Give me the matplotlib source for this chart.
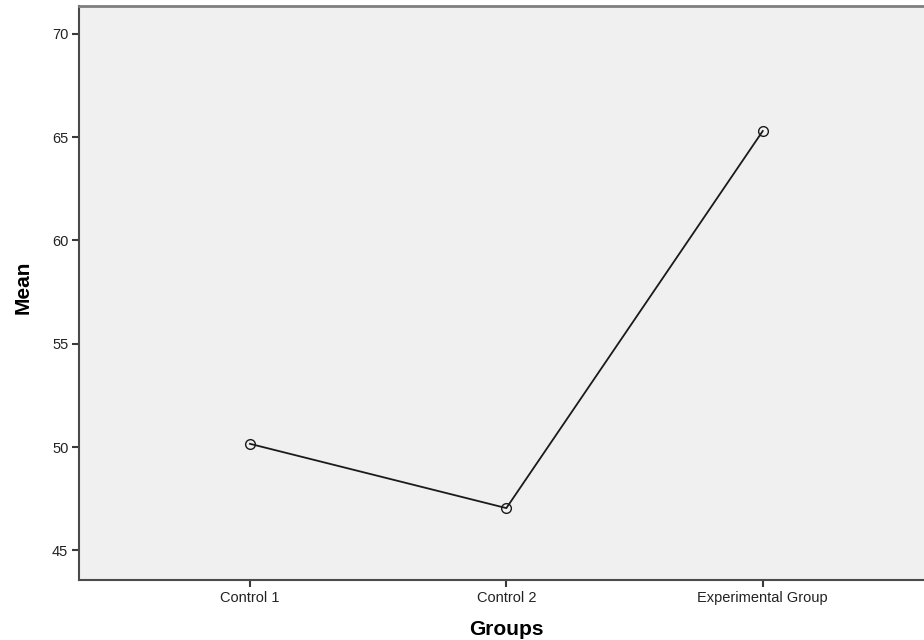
import matplotlib
matplotlib.use("Agg")
import matplotlib.pyplot as plt

# Mean score per group
groups = ["Control 1", "Control 2", "Experimental Group"]
means = [50.16, 47.05, 65.29]
y_ticks = [45, 50, 55, 60, 65, 70]

plt.rcParams['font.family'] = ['Liberation Sans', 'DejaVu Sans']

fig = plt.figure(figsize=(9.24, 6.4), dpi=100)
ax = fig.add_axes([0.086, 0.094, 0.924, 0.897])
ax.set_facecolor("#f0f0f0")

x = list(range(len(groups)))
ax.plot(x, means, color="#1a1a1a", linewidth=1.3, marker="o", markersize=7,
        markerfacecolor="none", markeredgecolor="#1a1a1a", markeredgewidth=1.0)

ax.set_xlim(-0.665, 2.665)
ax.set_ylim(43.58, 71.35)
ax.set_xticks(x)
ax.set_xticklabels(groups)
ax.set_yticks(y_ticks)
ax.tick_params(axis="both", direction="out", length=5, width=1.5, color="#3a3a3a",
               labelsize=10.5, labelcolor="#222222", pad=3)

for side in ["left", "bottom"]:
    ax.spines[side].set_color("#4a4a4a")
    ax.spines[side].set_linewidth(1.5)
ax.spines["top"].set_color("#7f7f7f")
ax.spines["top"].set_linewidth(2)
ax.spines["right"].set_visible(False)

ax.set_xlabel("Groups", fontsize=15, fontweight="bold", labelpad=11)
ax.set_ylabel("Mean", fontsize=15, fontweight="bold")
ax.yaxis.set_label_coords(-0.055, 0.51)

plt.savefig("out.png", dpi=100)
